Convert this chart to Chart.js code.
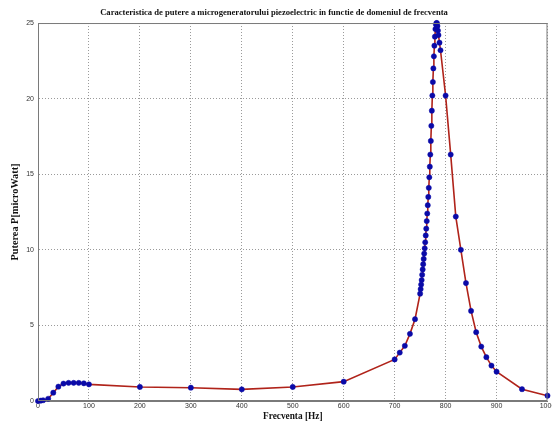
<!DOCTYPE html>
<html>
<head>
<meta charset="utf-8">
<script src="https://cdn.jsdelivr.net/npm/chart.js@4/dist/chart.umd.min.js"></script>
<style>
  html, body { margin: 0; padding: 0; background: #fff; }
  #wrap { width: 552px; height: 423px; }
</style>
</head>
<body>
<div id="wrap"><canvas id="c" width="552" height="423"></canvas></div>
<script>
const FREQ = [0, 5, 10, 20, 30, 40, 50, 60, 70, 80, 90, 100,
  200, 300, 400, 500, 600, 700, 710, 720, 730, 740,
  750, 751, 752, 753, 754, 755, 756, 757, 758, 759, 760,
  761, 762, 763, 764, 765, 766, 767, 768, 769, 770,
  771, 772, 773, 774, 775, 776, 777, 778, 779, 780,
  781, 782, 783, 784, 785, 786, 788, 790,
  800, 810, 820, 830, 840, 850, 860, 870, 880, 890, 900, 950, 1000];
const POWER = [0, 0.02, 0.05, 0.15, 0.55, 0.95, 1.15, 1.2, 1.2, 1.2, 1.17, 1.1,
  0.93, 0.88, 0.77, 0.93, 1.28, 2.75, 3.2, 3.65, 4.44, 5.41,
  7.1, 7.4, 7.7, 8.0, 8.35, 8.7, 9.05, 9.4, 9.75, 10.1, 10.5,
  10.95, 11.4, 11.9, 12.4, 12.95, 13.5, 14.1, 14.8, 15.5, 16.3,
  17.2, 18.2, 19.2, 20.2, 21.1, 22.0, 22.8, 23.5, 24.1, 24.6,
  24.9, 25.0, 25.0, 24.8, 24.5, 24.2, 23.7, 23.2,
  20.2, 16.3, 12.2, 10.0, 7.8, 5.96, 4.55, 3.6, 2.9, 2.34, 1.94, 0.78, 0.35];

const X_TICKS = [0, 100, 200, 300, 400, 500, 600, 700, 800, 900, 1000];
const Y_TICKS = [0, 5, 10, 15, 20, 25];

const TITLE = "Caracteristica de putere a microgeneratorului piezoelectric in functie de domeniul de frecventa";
const X_LABEL = "Frecventa [Hz]";
const Y_LABEL = "Puterea P[microWatt]";

const serif = "'Liberation Serif', 'DejaVu Serif', serif";
const sans = "'Liberation Sans', Arial, sans-serif";

// solid box round the plot area, like a matlab axes
const boxPlugin = {
  id: "box",
  afterDraw(chart) {
    const { ctx, chartArea: a } = chart;
    ctx.save();
    ctx.strokeStyle = "#7a7a7a";
    ctx.lineWidth = 1;
    ctx.strokeRect(a.left + 0.5, a.top + 0.5, a.right - a.left - 1, a.bottom - a.top - 1);
    ctx.restore();
  }
};

new Chart(document.getElementById("c"), {
  type: "line",
  data: {
    datasets: [{
      data: FREQ.map((f, i) => ({ x: f, y: POWER[i] })),
      borderColor: "#b0231a",
      borderWidth: 1.6,
      tension: 0,
      pointRadius: 2.6,
      pointBackgroundColor: "#0a0aa8",
      pointBorderColor: "#0a0aa8",
      pointBorderWidth: 0.5,
      clip: false,
    }],
  },
  options: {
    responsive: false,
    animation: false,
    layout: { padding: { left: 0, right: 4, top: 0, bottom: 0 } },
    plugins: {
      legend: { display: false },
      tooltip: { enabled: false },
      title: {
        display: true,
        text: TITLE,
        color: "#111",
        font: { family: serif, size: 8.6, weight: "bold", lineHeight: 1.2 },
        padding: { top: 8, bottom: 4.7 },
      },
    },
    scales: {
      x: {
        type: "linear",
        min: 0,
        max: 1000,
        afterBuildTicks: (s) => { s.ticks = X_TICKS.map(v => ({ value: v })); },
        afterFit: (s) => { s.height = 22; s.paddingLeft = 0; s.paddingRight = 0; },
        ticks: { color: "#333", font: { family: sans, size: 7 }, padding: 1, maxRotation: 0, callback: (v) => String(v) },
        grid: { color: "#9a9a9a", lineWidth: 1, drawTicks: false },
        border: { display: true, color: "#7a7a7a", dash: [1, 2] },
        title: {
          display: true,
          text: X_LABEL,
          color: "#111",
          font: { family: serif, size: 9.3, weight: "bold", lineHeight: 1.1 },
          padding: { top: 0, bottom: 1 },
        },
      },
      y: {
        min: 0,
        max: 25,
        afterBuildTicks: (s) => { s.ticks = Y_TICKS.map(v => ({ value: v })); },
        afterFit: (s) => { s.width = 38; },
        ticks: { color: "#333", font: { family: sans, size: 7 }, padding: 4 },
        grid: { color: "#9a9a9a", lineWidth: 1, drawTicks: false },
        border: { display: true, color: "#7a7a7a", dash: [1, 2] },
        title: {
          display: true,
          text: Y_LABEL,
          color: "#111",
          font: { family: serif, size: 10.3, weight: "bold", lineHeight: 1.1 },
          padding: { top: 9.5, bottom: 0 },
        },
      },
    },
  },
  plugins: [boxPlugin],
});
</script>
</body>
</html>
